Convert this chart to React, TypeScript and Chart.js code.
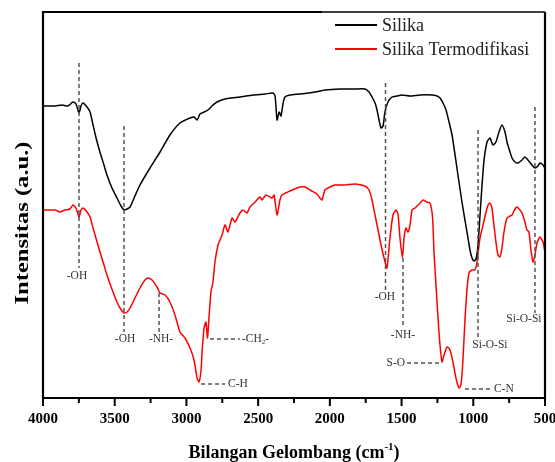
import React, { useEffect, useRef } from "react";
import { Chart, registerables } from "chart.js";

Chart.register(...registerables);

// ---- Data (wavenumber in cm-1, intensity in arbitrary units) ----
const silikaLabel = "Silika";
const termoLabel = "Silika Termodifikasi";

const silikaWavenumber = [4000, 3916, 3868, 3826, 3791, 3770, 3749, 3735, 3721, 3693, 3672, 3651, 3630, 3603, 3575, 3554, 3519, 3484, 3456, 3435, 3414, 3393, 3359, 3324, 3254, 3184, 3115, 3045, 2975, 2947, 2926, 2905, 2877, 2850, 2822, 2787, 2731, 2627, 2536, 2452, 2396, 2382, 2368, 2354, 2341, 2327, 2313, 2278, 2208, 2104, 2034, 1929, 1825, 1755, 1727, 1706, 1685, 1671, 1657, 1643, 1629, 1616, 1595, 1567, 1532, 1497, 1441, 1371, 1288, 1253, 1232, 1211, 1190, 1169, 1148, 1114, 1079, 1044, 1023, 1009, 995, 981, 967, 953, 939, 925, 904, 884, 863, 842, 821, 800, 779, 765, 744, 730, 709, 688, 660, 640, 619, 591, 570, 549, 535, 514, 500];
const silikaIntensity = [292, 292, 293, 292, 296, 294, 285, 292, 295, 291, 286, 273, 260, 246, 233, 223, 210, 200, 192, 188, 189, 191, 202, 213, 230, 246, 263, 275, 280, 281, 278, 284, 286, 288, 292, 296, 299, 301, 303, 304, 305, 302, 278, 286, 282, 294, 301, 303, 304, 306, 308, 309, 309, 309, 306, 301, 295, 288, 278, 270, 272, 286, 296, 301, 302, 303, 302, 303, 303, 302, 300, 295, 288, 276, 263, 230, 196, 166, 148, 140, 137, 139, 153, 183, 213, 238, 256, 260, 253, 256, 266, 273, 266, 256, 246, 240, 236, 235, 238, 241, 238, 233, 230, 232, 235, 233, 230];

const termoWavenumber = [4000, 3916, 3881, 3847, 3812, 3791, 3770, 3749, 3735, 3721, 3693, 3672, 3651, 3623, 3603, 3575, 3554, 3512, 3484, 3463, 3435, 3414, 3393, 3359, 3324, 3289, 3268, 3240, 3205, 3184, 3149, 3115, 3080, 3045, 3010, 2975, 2947, 2926, 2912, 2898, 2891, 2877, 2864, 2853, 2843, 2829, 2815, 2801, 2780, 2766, 2752, 2731, 2710, 2682, 2661, 2627, 2606, 2578, 2557, 2522, 2487, 2473, 2445, 2403, 2389, 2368, 2348, 2334, 2278, 2208, 2173, 2125, 2090, 2069, 2055, 2034, 1999, 1964, 1894, 1825, 1755, 1727, 1706, 1685, 1664, 1643, 1622, 1602, 1581, 1560, 1539, 1525, 1511, 1494, 1483, 1469, 1455, 1441, 1427, 1406, 1371, 1350, 1323, 1302, 1288, 1281, 1274, 1260, 1246, 1232, 1218, 1204, 1183, 1162, 1142, 1121, 1100, 1086, 1072, 1058, 1044, 1030, 1009, 988, 974, 953, 932, 911, 897, 884, 870, 856, 842, 828, 814, 800, 786, 765, 744, 730, 709, 695, 674, 660, 640, 626, 612, 598, 584, 570, 556, 535, 514, 500];
const termoIntensity = [188, 188, 186, 188, 189, 193, 190, 181, 188, 190, 186, 181, 170, 156, 146, 133, 123, 106, 96, 90, 85, 86, 90, 100, 110, 118, 120, 118, 111, 105, 103, 96, 83, 66, 60, 50, 38, 20, 16, 28, 46, 70, 76, 60, 80, 106, 116, 136, 153, 158, 163, 173, 166, 180, 176, 185, 188, 185, 191, 196, 201, 198, 203, 200, 203, 183, 198, 203, 207, 211, 211, 207, 204, 200, 198, 208, 211, 213, 213, 214, 212, 208, 198, 183, 168, 153, 140, 130, 160, 183, 188, 184, 160, 140, 160, 170, 166, 173, 188, 190, 195, 198, 196, 195, 186, 173, 146, 113, 80, 53, 36, 43, 51, 48, 36, 20, 10, 13, 38, 78, 108, 125, 128, 128, 136, 160, 173, 186, 193, 195, 190, 173, 156, 143, 141, 150, 166, 180, 182, 183, 189, 191, 188, 185, 176, 168, 166, 148, 136, 143, 155, 161, 156, 146];

// Axis
const xMin = 500;
const xMax = 4000;
const xMajorStep = 500;
const xMinorStep = 250;
const yMin = 0;
const yMax = 386;
const xTitle = "Bilangan Gelombang (cm⁻¹)";
const yTitle = "Intensitas (a.u.)";

// Vertical dashed annotations
const vLabels = ["-OH", "-OH", "-NH-", "-OH", "-NH-", "Si-O-Si", "Si-O-Si"];
const vWavenumber = [3749, 3435, 3191, 1612, 1490, 967, 570];
const vTop = [335, 272, 105, 315, 140, 268, 291];
const vBottom = [130, 66, 65, 108, 71, 58, 85];
const vLabelWavenumber = [3763, 3428, 3177, 1616, 1490, 884, 647];
const vLabelY = [122, 59, 59, 101, 63, 53, 79];

// Horizontal dashed annotations
const hLabels = ["-CH₂-", "C-H", "S-O", "C-N"];
const hY = [59, 14, 35, 9];
const hStart = [2836, 2898, 1462, 1058];
const hEnd = [2627, 2731, 1218, 884];
const hLabelWavenumber = [2613, 2710, 1476, 856];
const hLabelAlign = ["left", "left", "right", "left"];

const SERIF = "'Liberation Serif', 'Times New Roman', serif";

function toPoints(xs: number[], ys: number[]) {
  return xs.map((x, i) => ({ x, y: ys[i] }));
}

type Seg = { t: string; mode: "n" | "sub" | "sup" };
function parseRich(s: string): Seg[] {
  const subMap: Record<string, string> = { "₂": "2" };
  const supMap: Record<string, string> = { "⁻": "-", "¹": "1" };
  const segs: Seg[] = [];
  for (const ch of s) {
    let mode: Seg["mode"] = "n";
    let c = ch;
    if (subMap[ch]) { mode = "sub"; c = subMap[ch]; }
    else if (supMap[ch]) { mode = "sup"; c = supMap[ch]; }
    const last = segs[segs.length - 1];
    if (last && last.mode === mode) last.t += c;
    else segs.push({ t: c, mode });
  }
  return segs;
}

function drawRich(ctx: CanvasRenderingContext2D, s: string, x: number, y: number, align: string, size: number, weight: string) {
  const segs = parseRich(s);
  const fontFor = (m: string) => `${weight} ${m === "n" ? size : Math.round(size * 0.62)}px ${SERIF}`;
  let total = 0;
  const widths = segs.map((sg) => {
    ctx.font = fontFor(sg.mode);
    const w = ctx.measureText(sg.t).width;
    total += w;
    return w;
  });
  let cx = align === "center" ? x - total / 2 : align === "right" ? x - total : x;
  ctx.textAlign = "left";
  ctx.textBaseline = "middle";
  segs.forEach((sg, i) => {
    ctx.font = fontFor(sg.mode);
    const dy = sg.mode === "sub" ? size * 0.3 : sg.mode === "sup" ? -size * 0.35 : 0;
    ctx.fillText(sg.t, cx, y + dy);
    cx += widths[i];
  });
}

const decorPlugin = {
  id: "decor",
  afterDatasetsDraw(chart: any) {
    const ctx: CanvasRenderingContext2D = chart.ctx;
    const xs = chart.scales.x;
    const ys = chart.scales.y;
    const ca = chart.chartArea;
    ctx.save();
    // dashed annotations
    ctx.strokeStyle = "#555";
    ctx.lineWidth = 1.5;
    ctx.setLineDash([4, 3]);
    vWavenumber.forEach((w, i) => {
      const px = xs.getPixelForValue(w);
      ctx.beginPath();
      ctx.moveTo(px, ys.getPixelForValue(vTop[i]));
      ctx.lineTo(px, ys.getPixelForValue(vBottom[i]));
      ctx.stroke();
    });
    hY.forEach((v, i) => {
      const py = ys.getPixelForValue(v);
      ctx.beginPath();
      ctx.moveTo(xs.getPixelForValue(hStart[i]), py);
      ctx.lineTo(xs.getPixelForValue(hEnd[i]), py);
      ctx.stroke();
    });
    ctx.setLineDash([]);
    ctx.fillStyle = "#333";
    vLabels.forEach((t, i) => {
      drawRich(ctx, t, xs.getPixelForValue(vLabelWavenumber[i]), ys.getPixelForValue(vLabelY[i]), "center", 11.5, "normal");
    });
    hLabels.forEach((t, i) => {
      const px = xs.getPixelForValue(hLabelWavenumber[i]);
      drawRich(ctx, t, px, ys.getPixelForValue(hY[i]), hLabelAlign[i], 11.5, "normal");
    });

    // frame
    ctx.strokeStyle = "#000";
    ctx.lineWidth = 2.2;
    const legendLeft = ca.right - 223;
    ctx.beginPath();
    ctx.moveTo(legendLeft, ca.top);
    ctx.lineTo(ca.left, ca.top);
    ctx.lineTo(ca.left, ca.bottom);
    ctx.lineTo(ca.right, ca.bottom);
    ctx.lineTo(ca.right, ca.top);
    ctx.stroke();
    ctx.lineWidth = 1.3;
    ctx.beginPath();
    ctx.moveTo(legendLeft, ca.top);
    ctx.lineTo(ca.right, ca.top);
    ctx.stroke();

    // x ticks (outward)
    ctx.lineWidth = 2;
    for (let v = xMin; v <= xMax; v += xMinorStep) {
      const px = xs.getPixelForValue(v);
      const len = v % xMajorStep === 0 ? 8 : 5;
      ctx.beginPath();
      ctx.moveTo(px, ca.bottom);
      ctx.lineTo(px, ca.bottom + len);
      ctx.stroke();
    }

    // legend
    const items = chart.data.datasets;
    const lx0 = ca.right - 210;
    const lx1 = ca.right - 168;
    items.forEach((ds: any, i: number) => {
      const ly = ca.top + 13 + i * 24;
      ctx.strokeStyle = ds.borderColor;
      ctx.lineWidth = 1.8;
      ctx.beginPath();
      ctx.moveTo(lx0, ly);
      ctx.lineTo(lx1, ly);
      ctx.stroke();
      ctx.fillStyle = "#222";
      ctx.font = `18px ${SERIF}`;
      ctx.textAlign = "left";
      ctx.textBaseline = "middle";
      ctx.fillText(ds.label, lx1 + 5, ly + 1);
    });

    // axis titles
    ctx.fillStyle = "#000";
    drawRich(ctx, xTitle, (ca.left + ca.right) / 2, ca.bottom + 55, "center", 18, "bold");

    ctx.save();
    ctx.translate(23, (ca.top + ca.bottom) / 2 + 18);
    ctx.rotate(-Math.PI / 2);
    ctx.font = `bold 18px ${SERIF}`;
    const w = ctx.measureText(yTitle).width;
    ctx.scale(163 / w, 1);
    ctx.textAlign = "center";
    ctx.textBaseline = "middle";
    ctx.fillText(yTitle, 0, 0);
    ctx.restore();

    ctx.restore();
  },
};

export default function App() {
  const ref = useRef<HTMLCanvasElement | null>(null);
  useEffect(() => {
    if (!ref.current) return;
    const chart = new Chart(ref.current, {
      type: "line",
      data: {
        datasets: [
          {
            label: silikaLabel,
            data: toPoints(silikaWavenumber, silikaIntensity),
            borderColor: "#000000",
            borderWidth: 1.5,
            pointRadius: 0,
            tension: 0.2,
            fill: false,
          },
          {
            label: termoLabel,
            data: toPoints(termoWavenumber, termoIntensity),
            borderColor: "#ff0000",
            borderWidth: 1.5,
            pointRadius: 0,
            tension: 0.2,
            fill: false,
          },
        ],
      },
      options: {
        animation: false,
        responsive: true,
        maintainAspectRatio: false,
        layout: { padding: { left: 43, right: 10, top: 12, bottom: 0 } },
        plugins: { legend: { display: false }, tooltip: { enabled: false } },
        scales: {
          x: {
            type: "linear",
            reverse: true,
            min: xMin,
            max: xMax,
            border: { display: false },
            grid: { display: false, drawTicks: true, tickLength: 8 },
            ticks: {
              stepSize: xMinorStep,
              autoSkip: false,
              maxRotation: 0,
              padding: 4,
              color: "#000",
              font: { family: SERIF, size: 15, weight: "bold" },
              callback: (v: any) => (Number(v) % xMajorStep === 0 ? String(v) : ""),
            },
            afterFit: (scale: any) => {
              scale.height = 64;
              scale.paddingLeft = 0;
              scale.paddingRight = 0;
            },
          },
          y: {
            type: "linear",
            min: yMin,
            max: yMax,
            display: false,
          },
        },
      },
      plugins: [decorPlugin],
    });
    return () => chart.destroy();
  }, []);
  return (
    <div style={{ position: "absolute", left: 0, top: 0, width: 555, height: 462, background: "#fff" }}>
      <canvas ref={ref} />
    </div>
  );
}
